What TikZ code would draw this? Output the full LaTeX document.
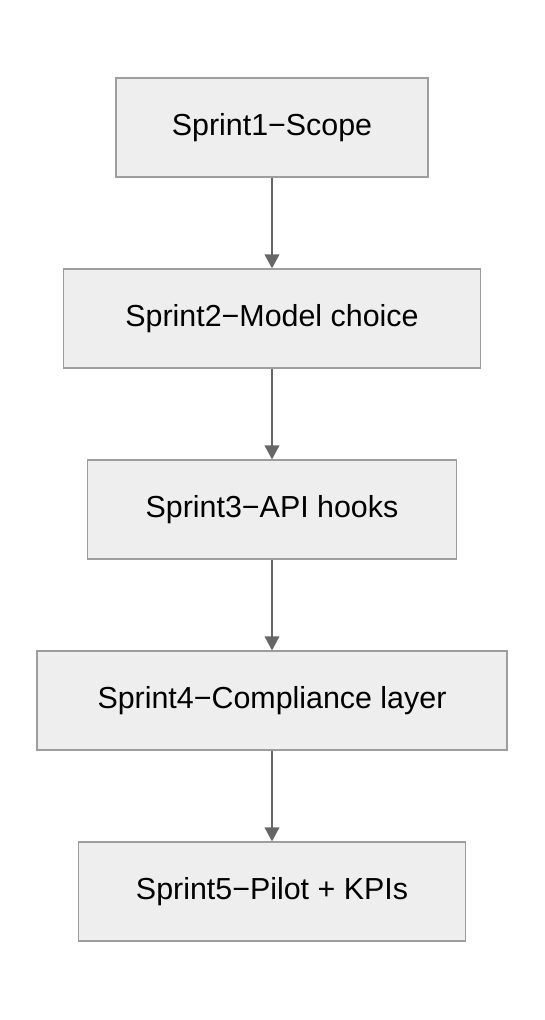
\documentclass[tikz,border=0pt]{standalone}
\usepackage{fontspec}
\setmainfont{Liberation Sans}
\usetikzlibrary{positioning, arrows.meta}

\tikzset{
    stepbox/.style={draw=boxline, fill=boxfill, line width=0.9pt, minimum height=74.25pt,
                    inner sep=0pt, font=\fontsize{22.8}{27}\selectfont, text=black},
    flow/.style={draw=flowline, line width=1.1pt, -{Triangle[length=10.5pt, width=11pt]}}
}

\begin{document}
\begin{tikzpicture}[x=0.75pt, y=-0.75pt, node distance=68.1pt]
            \definecolor{boxfill}{RGB}{238, 238, 238}
            \definecolor{boxline}{RGB}{158, 158, 158}
            \definecolor{flowline}{RGB}{102, 102, 102}

            \useasboundingbox (0,0) rectangle (544,1020);

            \node[stepbox, minimum width=234pt] (s1) at (272,127.5) {Sprint1−Scope};
            \node[stepbox, minimum width=312.75pt, below=of s1] (s2) {Sprint2−Model choice};
            \node[stepbox, minimum width=276.75pt, below=of s2] (s3) {Sprint3−API hooks};
            \node[stepbox, minimum width=352.5pt, below=of s3] (s4) {Sprint4−Compliance layer};
            \node[stepbox, minimum width=290.25pt, below=of s4] (s5) {Sprint5−Pilot + KPIs};

            \draw[flow] (s1) -- (s2);
            \draw[flow] (s2) -- (s3);
            \draw[flow] (s3) -- (s4);
            \draw[flow] (s4) -- (s5);
        \end{tikzpicture}
\end{document}
